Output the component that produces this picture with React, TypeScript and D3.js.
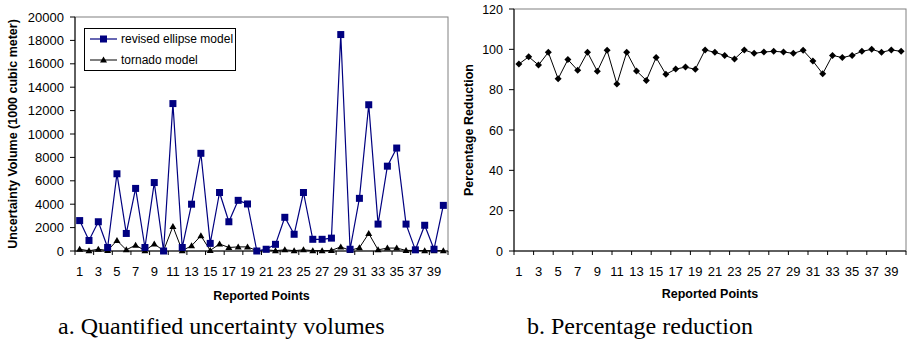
import React from "react";
import * as d3 from "d3";

const points: number[] = d3.range(1, 41);
const ellipseValues: number[] = [
  2600, 900, 2500, 300, 6600, 1500, 5350, 300, 5850, 0,
  12600, 300, 4000, 8350, 650, 5000, 2500, 4330, 4020, 0,
  150, 570, 2880, 1430, 5000, 1000, 1000, 1100, 18500, 150,
  4500, 12500, 2300, 7250, 8800, 2300, 100, 2200, 150, 3900,
];
const tornadoValues: number[] = [
  150, 20, 150, 40, 900, 100, 500, 30, 600, 30,
  2100, 30, 450, 1300, 50, 600, 300, 350, 350, 30,
  100, 30, 100, 30, 100, 30, 30, 50, 350, 50,
  280, 1500, 100, 250, 250, 50, 50, 30, 30, 30,
];
const reductionValues: number[] = [
  92.7, 96.3, 92.2, 98.5, 85.4, 94.9, 89.6, 98.5, 89.1, 99.5,
  82.8, 98.5, 89.3, 84.6, 95.9, 87.6, 90.2, 91.2, 90.1, 99.7,
  98.5, 97.0, 95.2, 99.7, 98.0, 98.7, 99.0, 98.7, 98.0, 99.5,
  94.2, 87.9, 97.0, 95.9, 97.0, 99.0, 100, 98.5, 99.7, 99.0,
];
const leftYTicks: number[] = d3.range(0, 20001, 2000);
const rightYTicks: number[] = d3.range(0, 121, 20);
const xTickLabels: number[] = d3.range(1, 41, 2);
const legendLabels: string[] = ["revised ellipse model", "tornado model"];
const xTitle = "Reported Points";
const leftYTitle = "Uncertainty Volume (1000 cubic meter)";
const rightYTitle = "Percentage Reduction";
const captionA = "a. Quantified uncertainty volumes";
const captionB = "b. Percentage reduction";

const SANS = "'Liberation Sans', Arial, Helvetica, sans-serif";
const SERIF = "'Liberation Serif', 'Times New Roman', serif";
const NAVY = "#000080";

type PanelProps = {
  x0: number; x1: number; yTop: number; yBot: number;
  yMax: number; yTicks: number[]; yTickFont: number;
  yTitle: string; yTitleX: number; xTitleY: number;
  children: (x: (p: number) => number, y: d3.ScaleLinear<number, number>) => React.ReactNode;
};

function Panel({ x0, x1, yTop, yBot, yMax, yTicks, yTickFont, yTitle, yTitleX, xTitleY, children }: PanelProps) {
  const band = d3.scaleBand<number>().domain(points).range([x0, x1]).padding(0);
  const x = (p: number) => (band(p) as number) + band.bandwidth() / 2;
  const y = d3.scaleLinear().domain([0, yMax]).range([yBot, yTop]);
  const boundaries = d3.range(0, 41, 2).map((i) => x0 + i * band.bandwidth());
  return (
    <g>
      <rect x={x0} y={yTop} width={x1 - x0} height={yBot - yTop} fill="white" stroke="#808080" strokeWidth={1} />
      <line x1={x0} x2={x0} y1={yTop} y2={yBot} stroke="#000" strokeWidth={1} />
      {yTicks.map((t) => (
        <g key={"y" + t}>
          <line x1={x0 - 5} x2={x0} y1={y(t)} y2={y(t)} stroke="#000" />
          <text x={x0 - 11} y={y(t)} dy="0.36em" textAnchor="end" fontSize={yTickFont} fontFamily={SANS} fill="#000">{t}</text>
        </g>
      ))}
      <line x1={x0} x2={x1} y1={yBot} y2={yBot} stroke="#000" strokeWidth={1} />
      {boundaries.map((bx, i) => (
        <line key={"xt" + i} x1={bx} x2={bx} y1={yBot} y2={yBot + 4} stroke="#000" />
      ))}
      {xTickLabels.map((p) => (
        <text key={"xl" + p} x={x(p)} y={yBot + 25} textAnchor="middle" fontSize={13} fontFamily={SANS} fill="#000">{p}</text>
      ))}
      <text x={(x0 + x1) / 2} y={xTitleY} textAnchor="middle" fontSize={12.5} fontWeight="bold" fontFamily={SANS} fill="#000">{xTitle}</text>
      <text transform={`translate(${yTitleX},${(yTop + yBot) / 2}) rotate(-90)`} dy="0.36em" textAnchor="middle" fontSize={12.5} fontWeight="bold" fontFamily={SANS} fill="#000">{yTitle}</text>
      {children(x, y)}
    </g>
  );
}

function Square({ cx, cy, s = 7, fill = NAVY }: { cx: number; cy: number; s?: number; fill?: string }) {
  return <rect x={cx - s / 2} y={cy - s / 2} width={s} height={s} fill={fill} />;
}
function Triangle({ cx, cy }: { cx: number; cy: number }) {
  return <path d={`M${cx},${cy - 3.5}L${cx + 3.5},${cy + 2.5}L${cx - 3.5},${cy + 2.5}Z`} fill="#000" />;
}
function Diamond({ cx, cy }: { cx: number; cy: number }) {
  return <path d={`M${cx},${cy - 3.5}L${cx + 3.5},${cy}L${cx},${cy + 3.5}L${cx - 3.5},${cy}Z`} fill="#000" />;
}

export default function App() {
  return (
    <svg width={910} height={341} style={{ position: "absolute", left: 0, top: 0, background: "white" }}>
      <rect width={910} height={341} fill="white" />
      <Panel x0={75} x1={448} yTop={17} yBot={251} yMax={20000} yTicks={leftYTicks} yTickFont={13} yTitle={leftYTitle} yTitleX={12} xTitleY={299.5}>
        {(x, y) => {
          const line = d3.line<number>().x((_, i) => x(points[i])).y((d) => y(d));
          return (
            <g>
              <path d={line(tornadoValues) || ""} fill="none" stroke="#000" strokeWidth={1} />
              {tornadoValues.map((v, i) => <Triangle key={"t" + i} cx={x(points[i])} cy={y(v)} />)}
              <path d={line(ellipseValues) || ""} fill="none" stroke={NAVY} strokeWidth={1.2} />
              {ellipseValues.map((v, i) => <Square key={"e" + i} cx={x(points[i])} cy={y(v)} />)}
              <rect x={84.5} y={28.5} width={151} height={42} fill="white" stroke="#000" strokeWidth={1} />
              <line x1={90} x2={117} y1={39} y2={39} stroke={NAVY} strokeWidth={1.2} />
              <Square cx={103.5} cy={39} />
              <text x={121} y={39} dy="0.36em" fontSize={12} fontFamily={SANS} fill="#000">{legendLabels[0]}</text>
              <line x1={90} x2={117} y1={60} y2={60} stroke="#000" strokeWidth={1} />
              <Triangle cx={103.5} cy={60} />
              <text x={121} y={60} dy="0.36em" fontSize={12} fontFamily={SANS} fill="#000">{legendLabels[1]}</text>
            </g>
          );
        }}
      </Panel>
      <Panel x0={514} x1={906} yTop={9} yBot={251} yMax={120} yTicks={rightYTicks} yTickFont={12.5} yTitle={rightYTitle} yTitleX={468} xTitleY={297.5}>
        {(x, y) => {
          const line = d3.line<number>().x((_, i) => x(points[i])).y((d) => y(d));
          return (
            <g>
              <path d={line(reductionValues) || ""} fill="none" stroke="#000" strokeWidth={1} />
              {reductionValues.map((v, i) => <Diamond key={"d" + i} cx={x(points[i])} cy={y(v)} />)}
            </g>
          );
        }}
      </Panel>
      <text x={58} y={334} fontSize={24} fontFamily={SERIF} fill="#000">{captionA}</text>
      <text x={527} y={334} fontSize={24} fontFamily={SERIF} fill="#000">{captionB}</text>
    </svg>
  );
}
